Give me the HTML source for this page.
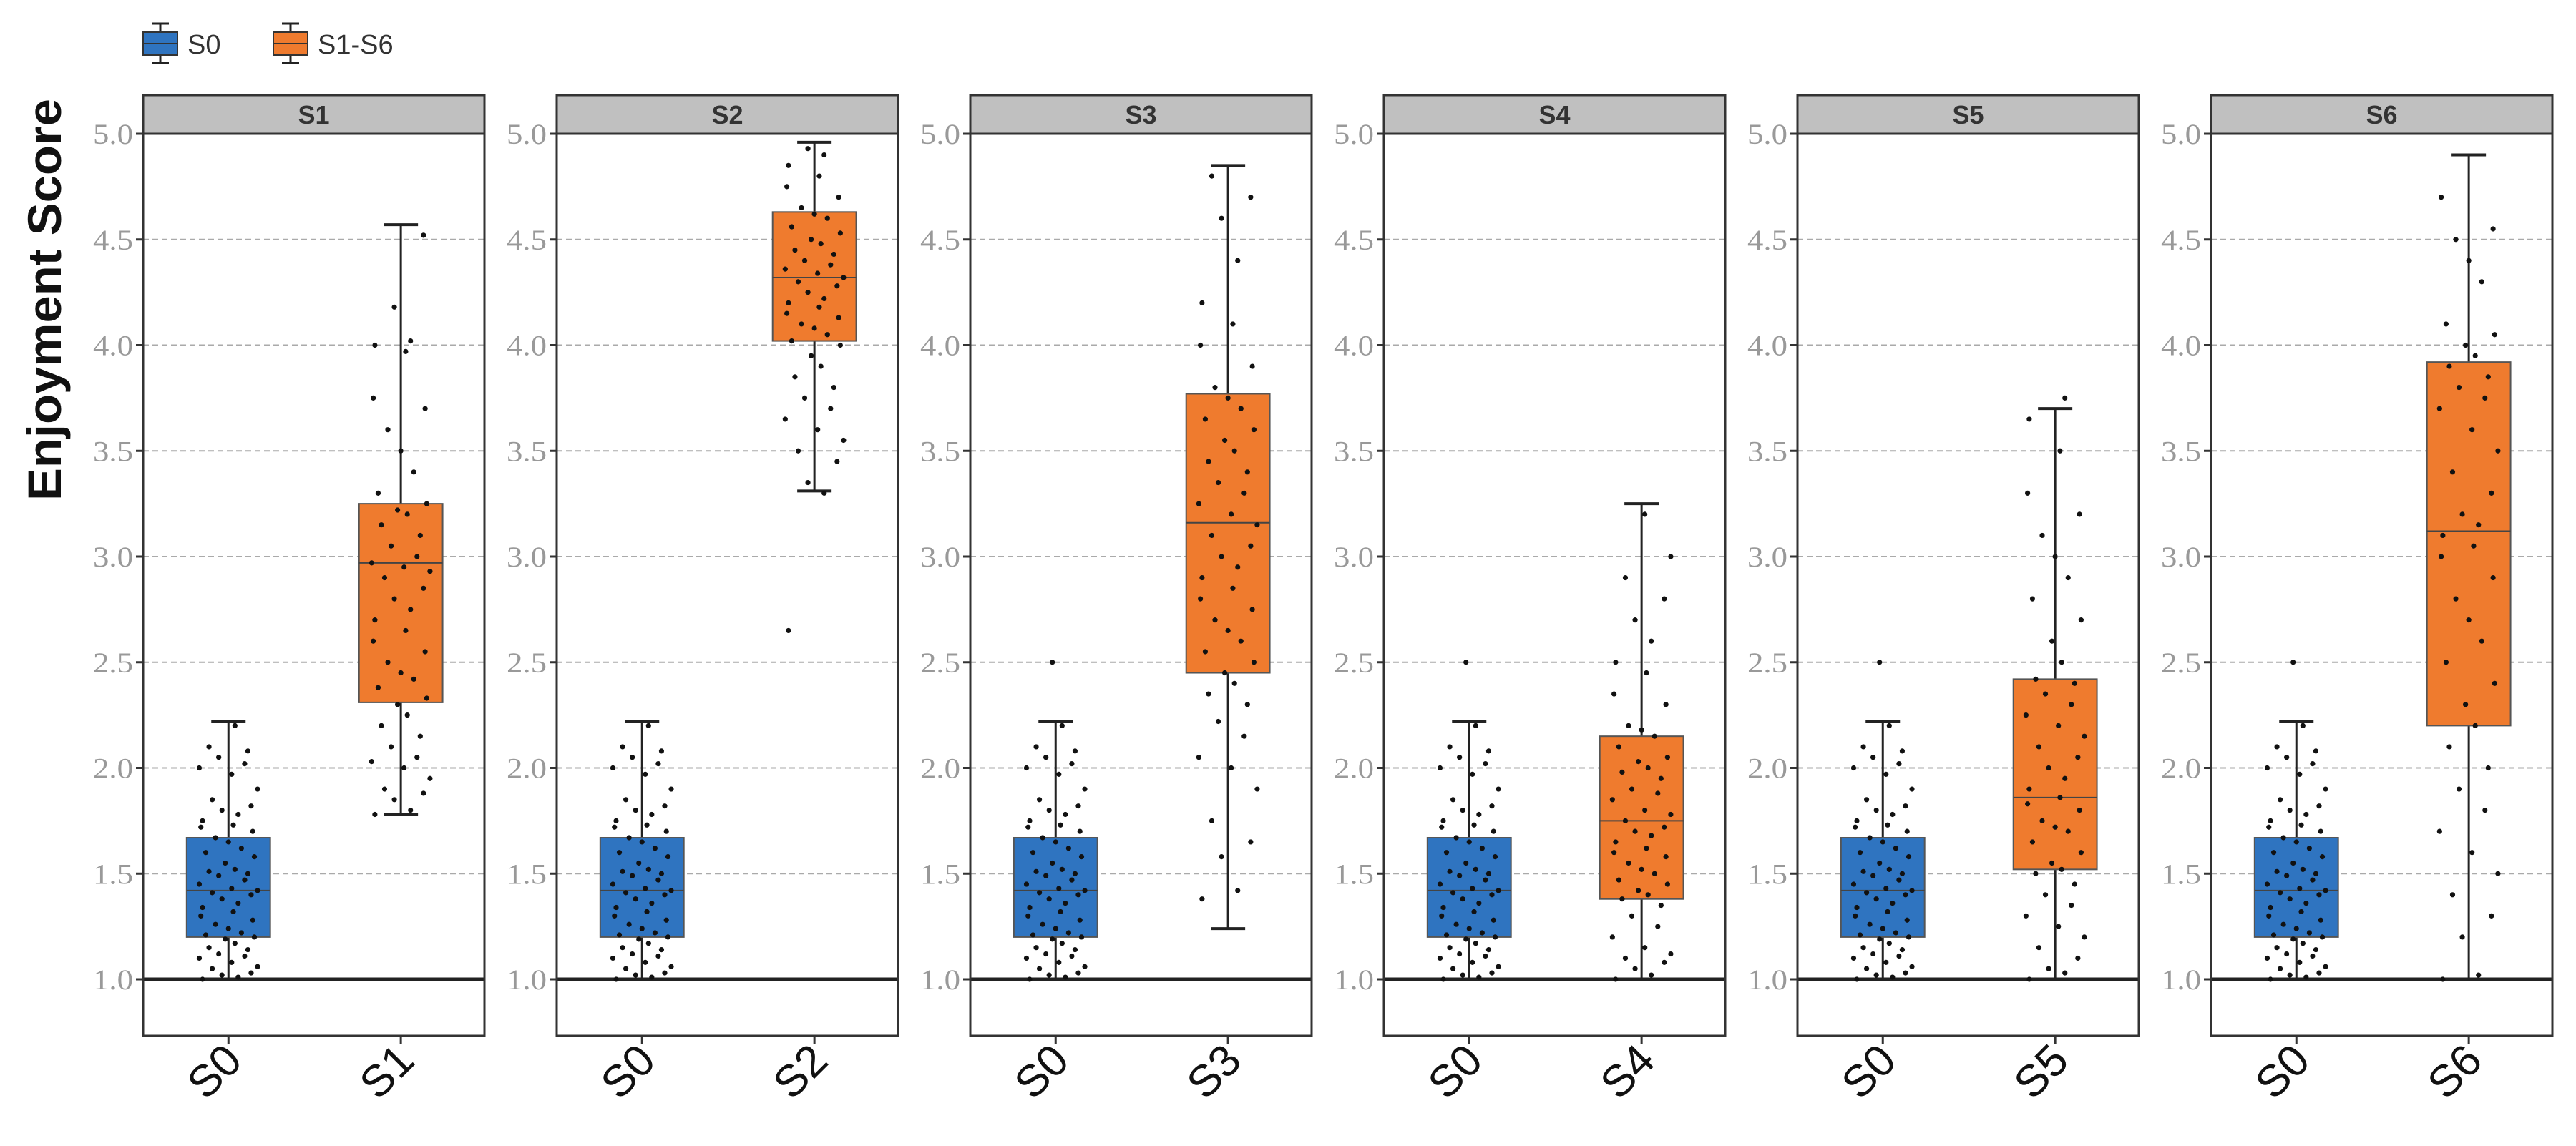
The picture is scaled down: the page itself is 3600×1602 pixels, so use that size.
<!DOCTYPE html>
<html><head><meta charset="utf-8"><style>
html,body{margin:0;padding:0;background:#fff;}
svg{display:block;}
</style></head><body>
<svg id="chart" width="3600" height="1602" viewBox="0 0 3600 1602" xmlns="http://www.w3.org/2000/svg"></svg>
<script>
const panels = ["S1","S2","S3","S4","S5","S6"];
const yTicks = [1.0,1.5,2.0,2.5,3.0,3.5,4.0,4.5,5.0];
const yTickLabels = ["1.0","1.5","2.0","2.5","3.0","3.5","4.0","4.5","5.0"];
// box stats: [lowWhisker, q1, median, q3, highWhisker]
const s0Stats = [1.0,1.2,1.42,1.67,2.22];
const treatStats = [
  [1.78,2.31,2.97,3.25,4.57],
  [3.31,4.02,4.32,4.63,4.96],
  [1.24,2.45,3.16,3.77,4.85],
  [1.0,1.38,1.75,2.15,3.25],
  [1.0,1.52,1.86,2.42,3.70],
  [1.0,2.2,3.12,3.92,4.9]
];
const s0Points = [1.0,1.01,1.02,1.03,1.05,1.06,1.08,1.1,1.11,1.12,1.14,1.15,1.17,1.19,1.2,1.21,1.22,1.24,1.26,1.28,1.3,1.32,1.34,1.36,1.38,1.4,1.41,1.42,1.43,1.45,1.47,1.49,1.5,1.51,1.52,1.55,1.58,1.6,1.62,1.65,1.67,1.7,1.72,1.73,1.75,1.78,1.8,1.82,1.85,1.9,1.97,2.0,2.02,2.05,2.08,2.1,2.2];
const s0Outlier = [null,null,2.5,2.5,2.5,2.5];
const treatPoints = [
  [1.78,1.8,1.85,1.88,1.9,1.95,2.0,2.03,2.05,2.1,2.15,2.2,2.25,2.3,2.33,2.38,2.42,2.45,2.5,2.55,2.6,2.65,2.7,2.75,2.8,2.85,2.9,2.93,2.95,2.97,3.0,3.05,3.1,3.15,3.2,3.22,3.25,3.3,3.4,3.5,3.6,3.7,3.75,3.97,4.0,4.02,4.18,4.52],
  [2.65,3.3,3.35,3.45,3.5,3.55,3.6,3.65,3.7,3.75,3.8,3.85,3.9,3.95,4.0,4.02,4.05,4.08,4.1,4.13,4.15,4.18,4.2,4.22,4.25,4.28,4.3,4.32,4.34,4.36,4.38,4.4,4.43,4.45,4.48,4.5,4.53,4.56,4.6,4.62,4.65,4.7,4.75,4.8,4.85,4.9,4.93],
  [1.38,1.42,1.58,1.65,1.75,1.9,2.0,2.05,2.15,2.22,2.3,2.35,2.4,2.45,2.5,2.55,2.6,2.65,2.7,2.75,2.8,2.85,2.9,2.95,3.0,3.05,3.1,3.15,3.2,3.25,3.3,3.35,3.4,3.45,3.5,3.55,3.6,3.65,3.7,3.75,3.8,3.9,4.0,4.1,4.2,4.4,4.6,4.7,4.8],
  [1.0,1.02,1.05,1.08,1.1,1.12,1.15,1.2,1.25,1.3,1.35,1.38,1.4,1.42,1.45,1.47,1.5,1.52,1.55,1.58,1.6,1.62,1.65,1.68,1.7,1.72,1.75,1.78,1.8,1.85,1.88,1.9,1.95,1.98,2.0,2.03,2.05,2.1,2.15,2.18,2.2,2.3,2.35,2.45,2.5,2.6,2.7,2.8,2.9,3.0,3.2],
  [1.0,1.03,1.05,1.1,1.15,1.2,1.25,1.3,1.35,1.4,1.45,1.5,1.52,1.55,1.6,1.65,1.7,1.72,1.75,1.8,1.83,1.86,1.9,1.95,2.0,2.05,2.1,2.15,2.2,2.25,2.3,2.35,2.4,2.42,2.5,2.6,2.7,2.8,2.9,3.0,3.1,3.2,3.3,3.5,3.65,3.75],
  [1.0,1.02,1.2,1.3,1.4,1.5,1.6,1.7,1.8,1.9,2.0,2.1,2.2,2.3,2.4,2.5,2.6,2.7,2.8,2.9,3.0,3.05,3.1,3.15,3.2,3.3,3.4,3.5,3.6,3.7,3.75,3.8,3.85,3.9,3.95,4.0,4.05,4.1,4.3,4.4,4.5,4.55,4.7]
];
const jitter = [-0.8,0.3,-0.2,0.7,-0.5,0.9,0.1,-0.9,0.5,-0.3,0.6,-0.6,0.2,-0.1,0.8,-0.7,0.4,0.0,-0.4,0.75,-0.85,0.15];

const NS = "http://www.w3.org/2000/svg";
const svg = document.getElementById("chart");
const PL = 200, PW = 477, PSTEP = 578, PTOP = 187, PBOT = 1448, STRIPTOP = 133;
const Y1 = 1369, YUNIT = 295.5;
function y(v){ return Y1 - (v - 1) * YUNIT; }
function px(i, frac){ return PL + i * PSTEP + frac * PW; }
function mk(tag, attrs, parent){
  const e = document.createElementNS(NS, tag);
  for (const k in attrs) e.setAttribute(k, attrs[k]);
  (parent || svg).appendChild(e);
  return e;
}
// y-axis title
const yt = mk("text", {x:0, y:0, transform:"translate(85,419) rotate(-90)", "text-anchor":"middle", "font-family":"Liberation Sans, sans-serif", "font-weight":"bold", "font-size":"66", fill:"#111", textLength:"562", lengthAdjust:"spacingAndGlyphs"});
yt.textContent = "Enjoyment Score";



// legend
const legendItems = [["S0","#2f74c0",200,262],["S1-S6","#ef7b2e",382,444]];
legendItems.forEach(function(it){
  const g = mk("g", {});
  
  
  const cx = it[2] + 24;
  mk("line", {x1:cx, x2:cx, y1:33, y2:88, stroke:"#222", "stroke-width":3}, g);
  mk("line", {x1:cx-12, x2:cx+12, y1:33, y2:33, stroke:"#222", "stroke-width":3}, g);
  mk("line", {x1:cx-12, x2:cx+12, y1:88, y2:88, stroke:"#222", "stroke-width":3}, g);
  mk("rect", {x:it[2], y:45, width:48, height:32, fill:it[1], stroke:"#333", "stroke-width":2}, g);
  mk("line", {x1:it[2], x2:it[2]+48, y1:61, y2:61, stroke:"#333", "stroke-width":2}, g);
  const t = mk("text", {x:it[3], y:75, "font-family":"Liberation Sans, sans-serif", "font-size":"38", fill:"#333"}, g);
  t.textContent = it[0];
});

function drawBox(g, cxv, st, color, name){
  const bw = PW * 0.245, cap = 24;
  const b = mk("g", {}, g);
  
  
  mk("line", {x1:cxv, x2:cxv, y1:y(st[0]), y2:y(st[4]), stroke:"#222", "stroke-width":3}, b);
  mk("line", {x1:cxv-cap, x2:cxv+cap, y1:y(st[4]), y2:y(st[4]), stroke:"#222", "stroke-width":4}, b);
  mk("line", {x1:cxv-cap, x2:cxv+cap, y1:y(st[0]), y2:y(st[0]), stroke:"#222", "stroke-width":4}, b);
  mk("rect", {x:cxv-bw/2, y:y(st[3]), width:bw, height:y(st[1])-y(st[3]), fill:color, stroke:"#555", "stroke-width":2}, b);
  mk("line", {x1:cxv-bw/2, x2:cxv+bw/2, y1:y(st[2]), y2:y(st[2]), stroke:"#444", "stroke-width":2}, b);
}
function drawPoints(g, cxv, vals, name){
  const pg = mk("g", {}, g);
  
  
  vals.forEach(function(v, k){
    mk("circle", {cx: cxv + jitter[k % jitter.length] * PW * 0.095, cy: y(v), r: 3.6, fill:"#111"}, pg);
  });
}

panels.forEach(function(p, i){
  const g = mk("g", {});
  
  
  const L = PL + i * PSTEP;
  const strip = mk("rect", {x:L, y:STRIPTOP, width:PW, height:PTOP-STRIPTOP, fill:"#c0c0c0", stroke:"#333", "stroke-width":3}, g);
  
  
  const st = mk("text", {x:L+PW/2, y:STRIPTOP+40, "text-anchor":"middle", "font-family":"Liberation Sans, sans-serif", "font-weight":"bold", "font-size":"36", fill:"#333"}, g);
  st.textContent = p;
  mk("rect", {x:L, y:PTOP, width:PW, height:PBOT-PTOP, fill:"#fff"}, g);
  yTicks.forEach(function(v, k){
    if (v > 1 && v < 5) mk("line", {x1:L, x2:L+PW, y1:y(v), y2:y(v), stroke:"#aaa", "stroke-width":2, "stroke-dasharray":"8,5"}, g);
    mk("line", {x1:L-10, x2:L, y1:y(v), y2:y(v), stroke:"#333", "stroke-width":3}, g);
    const tl = mk("text", {x:L-14, y:y(v)+14, "text-anchor":"end", "font-family":"Liberation Serif, serif", "font-size":"40", fill:"#999", textLength:"56", lengthAdjust:"spacingAndGlyphs"}, g);
    tl.textContent = yTickLabels[k];
  });
  mk("line", {x1:L, x2:L+PW, y1:y(1), y2:y(1), stroke:"#222", "stroke-width":5}, g);
  const c0 = px(i, 0.25), c1 = px(i, 0.755);
  drawBox(g, c0, s0Stats, "#2f74c0", "box-s0-" + p.toLowerCase());
  drawBox(g, c1, treatStats[i], "#ef7b2e", "box-" + p.toLowerCase());
  drawPoints(g, c0, s0Outlier[i] === null ? s0Points : s0Points.concat([s0Outlier[i]]), "points-s0-" + p.toLowerCase());
  drawPoints(g, c1, treatPoints[i], "points-" + p.toLowerCase());
  mk("rect", {x:L, y:PTOP, width:PW, height:PBOT-PTOP, fill:"none", stroke:"#333", "stroke-width":3}, g);
  [["S0", c0], [p, c1]].forEach(function(xl){
    mk("line", {x1:xl[1], x2:xl[1], y1:PBOT, y2:PBOT+12, stroke:"#333", "stroke-width":3}, g);
    const t = mk("text", {x:0, y:0, transform:"translate(" + (xl[1]+22) + "," + (PBOT+38) + ") rotate(-45)", "text-anchor":"end", "font-family":"Liberation Sans, sans-serif", "font-size":"62", fill:"#111"}, g);
    t.textContent = xl[0];
    
    
  });
});
</script>
</body></html>
